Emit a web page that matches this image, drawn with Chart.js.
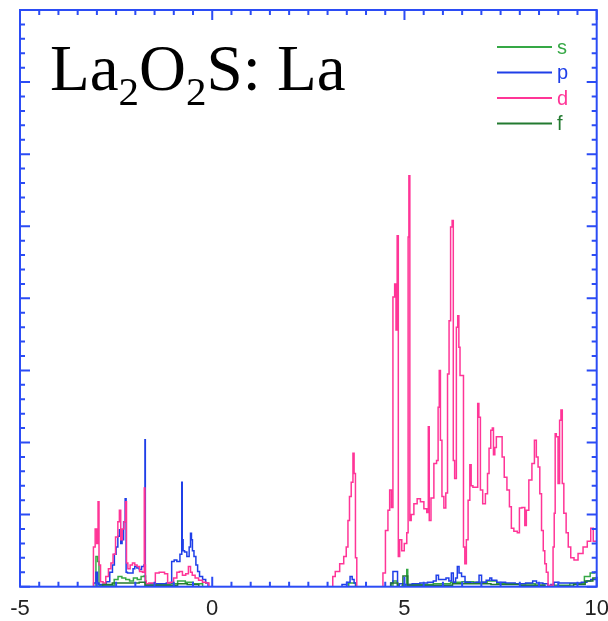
<!DOCTYPE html>
<html>
<head>
<meta charset="utf-8">
<script src="https://cdn.jsdelivr.net/npm/chart.js@4"></script>
<style>
html, body { margin: 0; padding: 0; background: #fff; }
</style>
</head>
<body>
<canvas id="myChart" width="608" height="621"></canvas>
<script>
// energy (eV) vs partial DOS
const xTicks = [-5, 0, 5, 10];
const seriesNames = ['s', 'p', 'd', 'f'];
const seriesColors = ['#35a845', '#1f3fe8', '#ff3597', '#237a30'];

const sCurve = [[-5,0],[-3.05,0],[-3.0,0.42],[-2.96,0.35],[-2.93,0.02],[-2.6,0.02],[-2.5,0.1],[-2.4,0.14],[-2.3,0.12],
  [-2.2,0.1],[-2.1,0.08],[-2.0,0.12],[-1.9,0.1],[-1.8,0.14],[-1.75,0.15],[-1.72,0.02],[-1.2,0.03],[-1.0,0.04],[-0.8,0.08],
  [-0.6,0.06],[-0.4,0.04],[-0.1,0],[3.5,0],[3.6,0.05],[3.7,0.05],[3.75,0],[4.68,0],[4.72,0.08],[4.8,0.08],[4.83,0],
  [5.05,0.02],[5.07,0.24],[5.1,0.03],[5.5,0.03],[6.0,0.04],[6.4,0.06],[6.6,0.07],[7.0,0.06],[7.3,0.08],[7.5,0.04],
  [8.3,0.04],[8.5,0.02],[8.8,0],[9.0,0.02],[9.6,0.04],[9.76,0.14],[9.9,0.19],[10,0.2]];

const pCurve = [[-5,0],[-3.12,0],[-3.05,0.05],[-3.0,0.2],[-2.97,0.05],[-2.93,0.03],[-2.8,0.03],[-2.71,0.07],[-2.62,0.2],
  [-2.57,0.3],[-2.52,0.45],[-2.48,0.55],[-2.43,0.7],[-2.40,0.79],[-2.36,0.6],[-2.33,0.65],[-2.28,0.9],[-2.25,1.22],
  [-2.23,0.2],[-2.18,0.19],[-2.09,0.19],[-2.03,0.25],[-2.0,0.28],[-1.92,0.26],[-1.875,0.24],[-1.80,0.28],[-1.755,0.3],
  [-1.745,2.04],[-1.735,0.05],[-1.70,0.04],[-1.5,0.04],[-1.3,0.04],[-1.09,0.05],[-1.02,0.35],[-0.96,0.37],[-0.88,0.35],
  [-0.80,0.45],[-0.785,1.45],[-0.775,0.65],[-0.74,0.5],[-0.70,0.48],[-0.62,0.42],[-0.58,0.55],[-0.55,0.74],[-0.53,0.65],
  [-0.50,0.5],[-0.45,0.42],[-0.40,0.3],[-0.36,0.21],[-0.30,0.14],[-0.2,0.1],[-0.14,0.05],[-0.08,0],
  [3.3,0],[3.45,0.03],[3.55,0.06],[3.62,0.14],[3.66,0.1],[3.72,0.05],[3.76,0],[4.6,0],[4.68,0.05],[4.72,0.21],[4.81,0.21],
  [4.83,0.02],[4.9,0.04],[5.1,0.03],[5.3,0.04],[5.5,0.05],[5.7,0.06],[5.8,0.08],[5.85,0.16],[5.92,0.1],[6.05,0.1],
  [6.11,0.12],[6.2,0.08],[6.24,0.19],[6.3,0.06],[6.36,0.12],[6.39,0.28],[6.45,0.19],[6.52,0.14],[6.63,0.06],[6.8,0.05],
  [6.92,0.06],[6.96,0.16],[7.05,0.06],[7.2,0.09],[7.24,0.12],[7.3,0.09],[7.5,0.06],[7.76,0.05],[8.0,0.04],[8.3,0.05],
  [8.37,0.08],[8.5,0.05],[8.7,0.04],[8.76,0],[8.85,0.03],[8.93,0.06],[9.1,0.05],[9.5,0.05],[9.7,0.06],[9.79,0.08],
  [9.9,0.1],[10,0.1]];

const dCurve = [[-5,0],[-3.12,0],[-3.06,0.55],[-3.03,0.8],[-2.98,0.6],[-2.96,1.18],[-2.93,0.3],[-2.88,0.07],[-2.8,0.05],
  [-2.74,0.14],[-2.66,0.25],[-2.61,0.33],[-2.55,0.45],[-2.48,0.69],[-2.43,0.9],[-2.40,1.06],[-2.36,0.65],[-2.32,0.8],
  [-2.27,0.9],[-2.24,1.18],[-2.22,0.33],[-2.17,0.25],[-2.10,0.3],[-2.05,0.33],[-1.98,0.3],[-1.93,0.28],[-1.85,0.21],
  [-1.78,0.2],[-1.755,1.37],[-1.745,0.3],[-1.73,0.08],[-1.70,0.04],[-1.6,0.05],[-1.5,0.05],[-1.46,0.19],[-1.3,0.2],
  [-1.18,0.18],[-1.14,0.05],[-1.05,0.06],[-0.96,0.12],[-0.88,0.2],[-0.83,0.21],[-0.72,0.16],[-0.66,0.18],[-0.58,0.28],
  [-0.55,0.2],[-0.49,0.16],[-0.40,0.12],[-0.31,0.09],[-0.2,0.06],[-0.12,0.05],[-0.05,0],
  [3.12,0],[3.15,0.14],[3.25,0.21],[3.38,0.32],[3.46,0.42],[3.51,0.55],[3.55,0.92],[3.59,1.25],[3.64,1.45],[3.68,1.85],
  [3.70,1.57],[3.75,0.40],[3.77,0],[4.42,0],[4.46,0.19],[4.55,0.78],[4.59,1.06],[4.64,1.34],[4.68,1.1],[4.72,4.02],
  [4.77,4.20],[4.79,3.56],[4.83,4.87],[4.85,0.42],[4.90,0.65],[4.96,0.5],[5.03,0.6],[5.09,0.75],[5.10,4.85],[5.13,5.70],
  [5.15,0.92],[5.20,1.0],[5.29,1.15],[5.37,1.22],[5.46,1.18],[5.55,1.08],[5.61,1.03],[5.63,2.22],[5.66,0.92],[5.72,1.23],
  [5.81,1.71],[5.86,1.75],[5.89,2.49],[5.92,3.0],[5.95,2.03],[6.0,1.25],[6.05,1.09],[6.1,1.3],[6.14,2.95],[6.18,3.69],
  [6.22,4.99],[6.26,5.08],[6.28,1.75],[6.33,1.5],[6.37,3.6],[6.40,3.76],[6.43,3.32],[6.46,2.93],[6.52,2.93],[6.55,0.55],
  [6.59,0.32],[6.63,0.65],[6.68,1.2],[6.72,1.69],[6.75,1.4],[6.81,1.38],[6.89,1.38],[6.92,2.54],[6.95,2.35],[7.0,1.34],
  [7.07,1.15],[7.14,1.29],[7.18,1.57],[7.22,1.92],[7.27,2.17],[7.30,2.2],[7.33,1.83],[7.37,1.93],[7.41,2.08],[7.52,2.08],
  [7.56,1.8],[7.63,1.52],[7.70,1.34],[7.76,1.11],[7.80,0.81],[7.89,0.77],[7.98,0.75],[8.0,1.09],[8.11,1.1],[8.15,0.85],
  [8.19,1.06],[8.28,1.48],[8.35,1.71],[8.41,2.03],[8.45,1.8],[8.50,1.66],[8.54,1.29],[8.59,0.78],[8.63,0.5],[8.67,0.32],
  [8.71,0.2],[8.76,0.02],[8.85,0.02],[8.88,0.55],[8.91,1.02],[8.93,2.12],[8.97,2.08],[9.02,1.43],[9.05,2.31],[9.09,2.45],
  [9.12,1.43],[9.17,1.02],[9.24,0.75],[9.28,0.55],[9.37,0.4],[9.45,0.37],[9.58,0.46],[9.71,0.55],[9.80,0.63],[9.89,0.81],
  [9.93,0.63],[10,0.63]];

const fCurve = [[-5,0],[-2.9,0],[-2.8,0.03],[-2.4,0.05],[-2.0,0.05],[-1.8,0.06],[-1.7,0.02],[-1.0,0.02],[-0.8,0.04],
  [-0.5,0.03],[-0.2,0],[4.6,0],[4.7,0.05],[4.8,0.05],[4.85,0],[5.07,0.15],[5.1,0.02],[6.0,0.02],[6.5,0.04],[7.0,0.04],
  [7.5,0.03],[8.5,0.02],[8.8,0],[9.2,0.01],[9.6,0.03],[9.8,0.08],[10,0.12]];

const curves = [sCurve, pCurve, dCurve, fCurve];
const frameColor = '#2b4cf5';

function toPoints(curve) {
    return curve.map(function(p) { return {x: p[0], y: p[1]}; });
}

// frame, inward ticks, x labels, title and the line legend
const decorations = {
    id: 'decorations',
    afterDatasetsDraw(chart) {
        const ctx = chart.ctx;
        const a = chart.chartArea;
        const xs = chart.scales.x, ys = chart.scales.y;
        ctx.save();
        ctx.strokeStyle = frameColor;
        ctx.lineWidth = 2;
        ctx.strokeRect(a.left, a.top, a.right - a.left, a.bottom - a.top);

        ctx.beginPath();
        for (let i = 0; i <= 30; i++) {
            const v = -5 + i * 0.5;
            const px = xs.getPixelForValue(v);
            const len = (i % 10 === 0) ? 10 : 5;
            ctx.moveTo(px, a.bottom); ctx.lineTo(px, a.bottom - len);
            ctx.moveTo(px, a.top); ctx.lineTo(px, a.top + len);
        }
        for (let j = 0; j <= 40; j++) {
            const py = ys.getPixelForValue(j * 0.2);
            const len = (j % 5 === 0) ? 10 : 5;
            ctx.moveTo(a.left, py); ctx.lineTo(a.left + len, py);
            ctx.moveTo(a.right, py); ctx.lineTo(a.right - len, py);
        }
        ctx.stroke();

        ctx.fillStyle = '#222';
        ctx.font = '22px "Liberation Sans", Arial, sans-serif';
        ctx.textAlign = 'center';
        ctx.textBaseline = 'middle';
        xTicks.forEach(function(v) {
            ctx.fillText(String(v), xs.getPixelForValue(v), a.bottom + 22);
        });

        // title La2O2S: La
        ctx.fillStyle = '#000';
        ctx.textBaseline = 'alphabetic';
        ctx.textAlign = 'left';
        const big = '65px "Liberation Serif", "Times New Roman", serif';
        const small = '41px "Liberation Serif", "Times New Roman", serif';
        const parts = [['La', big, 0], ['2', small, 15], ['O', big, 0], ['2', small, 15], ['S: La', big, 0]];
        let tx = 50;
        parts.forEach(function(p) {
            ctx.font = p[1];
            ctx.fillText(p[0], tx, 90 + p[2]);
            tx += ctx.measureText(p[0]).width;
        });

        // legend
        ctx.font = '20px "Liberation Sans", Arial, sans-serif';
        ctx.textBaseline = 'middle';
        ctx.lineWidth = 2;
        seriesNames.forEach(function(name, i) {
            const y = 47 + i * 25.5;
            ctx.strokeStyle = seriesColors[i];
            ctx.beginPath();
            ctx.moveTo(497, y); ctx.lineTo(552, y);
            ctx.stroke();
            ctx.fillStyle = seriesColors[i];
            ctx.fillText(name, 557, y + 1);
        });
        ctx.restore();
    }
};

const datasets = [3, 2, 1, 0].map(function(i) {
    return {
        label: seriesNames[i],
        data: toPoints(curves[i]),
        borderColor: seriesColors[i],
        borderWidth: 1.5,
        pointRadius: 0,
        stepped: 'middle',
        fill: false
    };
});

new Chart(document.getElementById('myChart').getContext('2d'), {
    type: 'line',
    data: { datasets: datasets },
    options: {
        responsive: false,
        animation: false,
        layout: { padding: { left: 20, right: 11.3, top: 10, bottom: 34.3 } },
        plugins: { legend: { display: false }, tooltip: { enabled: false } },
        scales: {
            x: { type: 'linear', display: false, min: -5, max: 10 },
            y: { display: false, min: 0, max: 8 }
        }
    },
    plugins: [decorations]
});
</script>
</body>
</html>
